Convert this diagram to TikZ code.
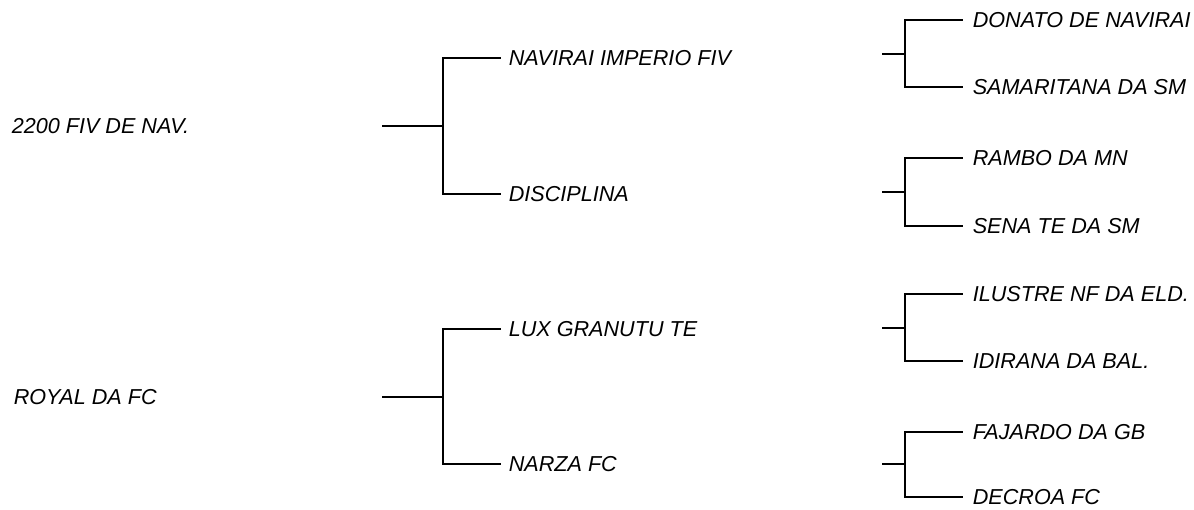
\documentclass[tikz,border=0pt]{standalone}
\usepackage{fontspec}
\setmainfont{Liberation Sans}
\usepackage{tikz}

\begin{document}
\begin{tikzpicture}[x=0.02cm,y=-0.02cm,line width=0.9pt,line cap=rect,
  lbl/.style={anchor=west,inner sep=0pt,font=\fontsize{12.3}{14}\selectfont\itshape}]
\useasboundingbox (0,0) rectangle (1194,510);
% sires
\node[lbl] (root1) at (11,126) {2200 FIV DE NAV.};
\node[lbl] (root2) at (13,397) {ROYAL DA FC};
% parents
\node[lbl] (navirai) at (508,58) {NAVIRAI IMPERIO FIV};
\node[lbl] (disciplina) at (508,194) {DISCIPLINA};
\node[lbl] (lux) at (508,329) {LUX GRANUTU TE};
\node[lbl] (narza) at (508,464) {NARZA FC};
% grandparents
\node[lbl] (donato) at (972,20) {DONATO DE NAVIRAI};
\node[lbl] (samaritana) at (972,87) {SAMARITANA DA SM};
\node[lbl] (rambo) at (972,158) {RAMBO DA MN};
\node[lbl] (sena) at (972,226) {SENA TE DA SM};
\node[lbl] (ilustre) at (972,294) {ILUSTRE NF DA ELD.};
\node[lbl] (idirana) at (972,361) {IDIRANA DA BAL.};
\node[lbl] (fajardo) at (972,432) {FAJARDO DA GB};
\node[lbl] (decroa) at (972,497) {DECROA FC};
% junctions
\coordinate (s1) at (383,126); \coordinate (j1) at (443,126);
\coordinate (s2) at (383,397); \coordinate (j2) at (443,397);
\coordinate (s3) at (883,54);  \coordinate (j3) at (905,54);
\coordinate (s4) at (883,192); \coordinate (j4) at (905,192);
\coordinate (s5) at (883,328); \coordinate (j5) at (905,328);
\coordinate (s6) at (883,464); \coordinate (j6) at (905,464);
% brackets
\draw (s1) -- (j1);
\draw ([xshift=-0.16cm]navirai.west) -| (j1) |- ([xshift=-0.16cm]disciplina.west);
\draw (s2) -- (j2);
\draw ([xshift=-0.16cm]lux.west) -| (j2) |- ([xshift=-0.16cm]narza.west);
\draw (s3) -- (j3);
\draw ([xshift=-0.2cm]donato.west) -| (j3) |- ([xshift=-0.2cm]samaritana.west);
\draw (s4) -- (j4);
\draw ([xshift=-0.2cm]rambo.west) -| (j4) |- ([xshift=-0.2cm]sena.west);
\draw (s5) -- (j5);
\draw ([xshift=-0.2cm]ilustre.west) -| (j5) |- ([xshift=-0.2cm]idirana.west);
\draw (s6) -- (j6);
\draw ([xshift=-0.2cm]fajardo.west) -| (j6) |- ([xshift=-0.2cm]decroa.west);
\end{tikzpicture}
\end{document}
